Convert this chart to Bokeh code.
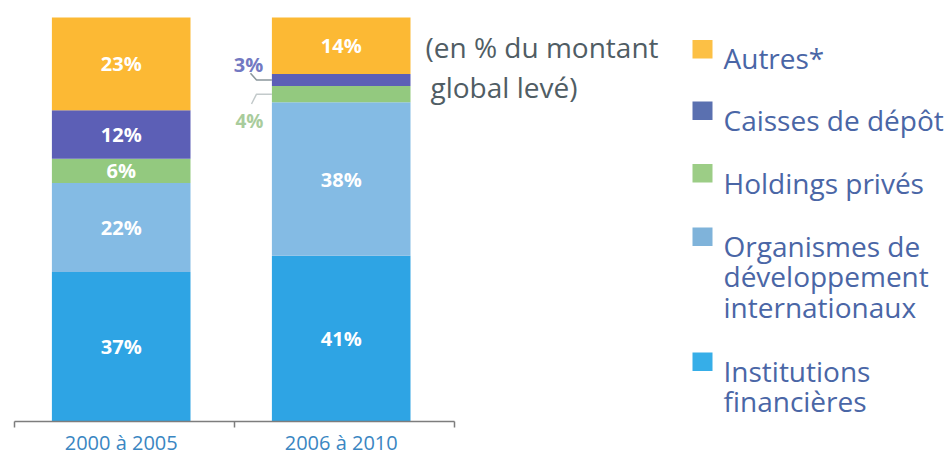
from bokeh.plotting import figure
from bokeh.layouts import row
from bokeh.models import Range1d, FixedTicker, ColumnDataSource, LinearAxis
from bokeh.core.properties import value
from bokeh.embed import file_html
from bokeh.resources import INLINE

# ---------------- data ----------------
periods = ["2000 à 2005", "2006 à 2010"]
series = ["institutions", "organismes", "holdings", "caisses", "autres"]
institutions = [37, 41]
organismes = [22, 38]
holdings = [6, 4]
caisses = [12, 3]
autres = [23, 14]
colors = ["#2ea4e4", "#84bbe4", "#93c97f", "#5c5fb6", "#fcb934"]
legend_labels = ["Autres*", "Caisses de dépôt", "Holdings privés",
                 "Organismes de\ndéveloppement\ninternationaux",
                 "Institutions\nfinancières"]
legend_colors = ["#fcc045", "#5a70b0", "#9ccd86", "#7fb3da", "#36aee8"]
note_lines = ["(en % du montant", "global levé)"]

values = {"institutions": institutions, "organismes": organismes,
          "holdings": holdings, "caisses": caisses, "autres": autres}

# ---------------- layout constants ----------------
FONT = "Open Sans"
W = 950
H = 458
LEFT_W = 665
RIGHT_W = W - LEFT_W
BORDER_L = 14
BORDER_B = 35
FRAME_W = LEFT_W - BORDER_L
FRAME_H = H - BORDER_B
PXX = 220.0                      # pixels per category
Y_B = FRAME_H                    # page y of frame bottom
PXY = (Y_B - 17) / 100.0         # pixels per percent
BAR_W = 0.63
BAR_OFFSET = 0.485               # bar centre within its category slot

def xd(px):
    return (px - BORDER_L) / PXX

def yd(py):
    return (Y_B - py) / PXY

# ---------------- left figure (bars) ----------------
p = figure(width=LEFT_W, height=H, output_backend="svg", toolbar_location=None,
           x_range=Range1d(0, FRAME_W / PXX), y_range=Range1d(0, FRAME_H / PXY),
           x_axis_type=None, y_axis_type=None,
           min_border_left=BORDER_L, min_border_right=0, min_border_top=0,
           min_border_bottom=BORDER_B)
p.outline_line_color = None
p.grid.visible = False
p.background_fill_color = "white"
p.border_fill_color = "white"

xs = [i + BAR_OFFSET for i in range(len(periods))]
src = ColumnDataSource(dict(x=xs, **values))
p.vbar_stack(series, x="x", width=BAR_W, fill_color=colors, line_color=None, source=src)

# labels inside bars
lx, ly, lt = [], [], []
for i in range(len(periods)):
    bottom = 0
    for s in series:
        v = values[s][i]
        if v >= 5:
            lx.append(xs[i]); ly.append(bottom + v / 2); lt.append(f"{v}%")
        bottom += v
p.text(x=lx, y=ly, text=lt, text_color="white", text_font=value(FONT),
       text_font_style="bold", text_font_size="20px", text_align="center",
       text_baseline="middle")

# small values of 2nd bar, labelled outside with connectors
bar_left = xs[1] - BAR_W / 2
green_mid = institutions[1] + organismes[1] + holdings[1] / 2
purple_mid = institutions[1] + organismes[1] + holdings[1] + caisses[1] / 2
p.text(x=[xd(248)], y=[yd(64)], text=[f"{caisses[1]}%"], text_color="#7379c2",
       text_font=value(FONT), text_font_size="20px", text_font_style="bold",
       text_align="center", text_baseline="middle")
p.text(x=[xd(249)], y=[yd(121)], text=[f"{holdings[1]}%"], text_color="#a9cc9c",
       text_font=value(FONT), text_font_size="19px", text_font_style="bold",
       text_align="center", text_baseline="middle")
p.line(x=[xd(250), xd(256), bar_left], y=[yd(73), purple_mid, purple_mid],
       line_color="#8b979c", line_width=1.5)
p.line(x=[xd(251), xd(256), bar_left], y=[yd(104), green_mid, green_mid],
       line_color="#c3cacb", line_width=1.5)

# note
p.text(x=[xd(425), xd(430)], y=[yd(47), yd(87)], text=note_lines,
       text_color="#505d64", text_font=value(FONT), text_font_size="28px",
       text_align="left", text_baseline="alphabetic")

# x axis
ax = LinearAxis(ticker=FixedTicker(ticks=xs, minor_ticks=list(range(len(periods) + 1))),
                bounds=(0, len(periods)))
ax.major_label_overrides = {x: lab for x, lab in zip(xs, periods)}
ax.axis_line_color = "#7d7d7d"
ax.axis_line_width = 1.5
ax.major_tick_line_color = None
ax.major_tick_out = 0
ax.major_tick_in = 0
ax.minor_tick_line_color = "#7d7d7d"
ax.minor_tick_line_width = 1.5
ax.minor_tick_out = 6
ax.minor_tick_in = 0
ax.major_label_standoff = 1
ax.major_label_text_font = FONT
ax.major_label_text_font_size = "20px"
ax.major_label_text_color = "#3a86c2"
p.add_layout(ax, "below")

# ---------------- right figure (legend) ----------------
x0 = LEFT_W
q = figure(width=RIGHT_W, height=H, output_backend="svg", toolbar_location=None,
           x_range=Range1d(x0, x0 + RIGHT_W), y_range=Range1d(H, 0),
           x_axis_type=None, y_axis_type=None,
           min_border_left=0, min_border_right=0, min_border_top=0, min_border_bottom=0)
q.outline_line_color = None
q.grid.visible = False
q.background_fill_color = "white"
q.border_fill_color = "white"

sq_tops = [43, 110, 178, 247, 383]
q.rect(x=[702] * len(legend_labels), y=[t + 10 for t in sq_tops], width=20, height=20,
       fill_color=legend_colors, line_color=None)
tx, ty, tt = [], [], []
for lab, top in zip(legend_labels, sq_tops):
    for k, line in enumerate(lab.split("\n")):
        tx.append(723); ty.append(top + 20 + 33 * k); tt.append(line)
q.text(x=tx, y=ty, text=tt, text_color="#4a66a6", text_font=value(FONT),
       text_font_size="28px", text_align="left", text_baseline="alphabetic")

layout = row(p, q, spacing=0)
open("out.html", "w").write(file_html(layout, INLINE))
